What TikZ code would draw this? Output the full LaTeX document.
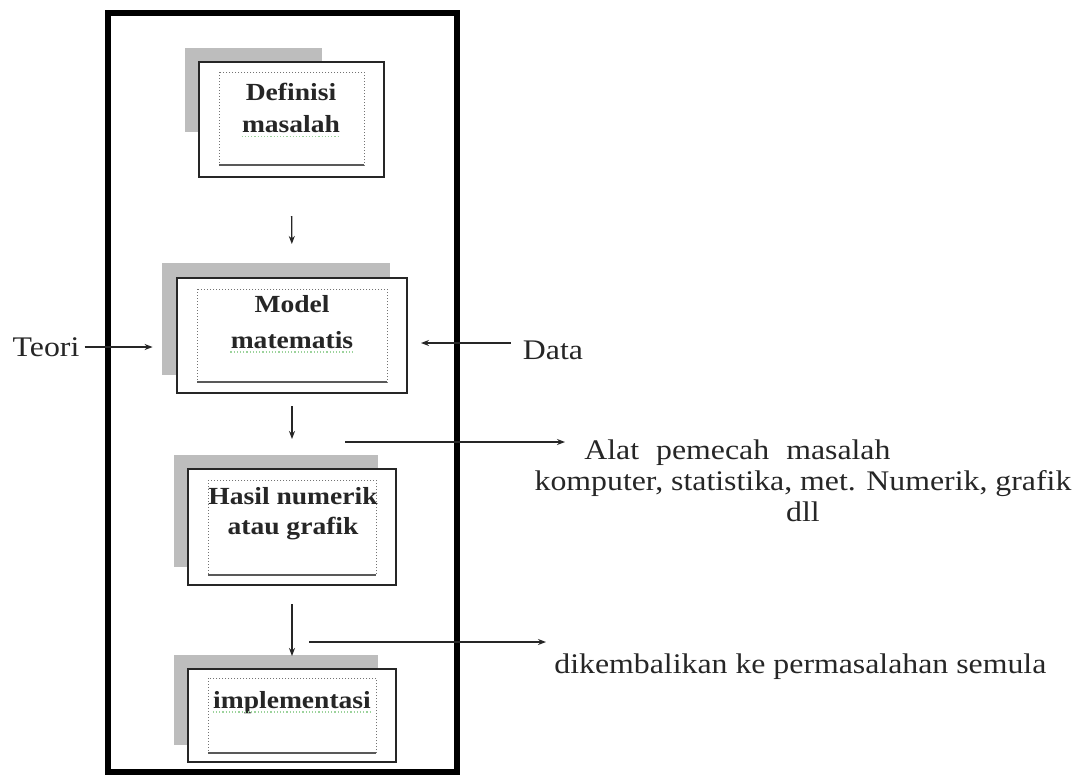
\documentclass[tikz,border=0pt]{standalone}
\usepackage{fontspec}
\setmainfont{Liberation Serif}[FakeStretch=1.12]
\usetikzlibrary{arrows.meta}
\definecolor{shadowgray}{HTML}{BDBDBD}
\definecolor{inkc}{HTML}{262626}
\definecolor{spellgreen}{HTML}{9CD39C}
\tikzset{
  mainbox/.style={draw=inkc, line width=1pt, fill=white},
  shadowbox/.style={fill=shadowgray},
  innerbox/.style={draw=black!55, line width=0.5pt, densely dotted},
  innerbase/.style={draw=black!65, line width=0.8pt},
  boxtext/.style={inner sep=0pt, font=\fontsize{12.3}{15}\selectfont\bfseries, text=inkc, align=center},
  plaintext/.style={inner sep=0pt, font=\fontsize{14.2}{17}\selectfont, text=inkc},
  arr/.style={draw=inkc, line width=0.7pt, -{Stealth[length=4pt, width=3pt]}},
  frame/.style={draw=black, line width=3.2pt},
  spell/.style={draw=spellgreen, line width=0.6pt, densely dotted}
}
\begin{document}
\begin{tikzpicture}[x=0.5pt, y=-0.5pt]
\useasboundingbox (0,0) rectangle (1083,778);
\fill[white] (0,0) rectangle (1083,778);

% outer frame
\draw[frame] (108,13) rectangle (457,772);

% box 1
\fill[shadowbox] (185,48) rectangle (322,132);
\node[mainbox, minimum width=92.5pt, minimum height=57.5pt] (b1) at (291.5,119.5) {};
\draw[innerbox] (219,72) rectangle (364,165);
\draw[innerbase] (219,165) -- (364,165);
\node[boxtext] (t1) at (291,108) {Definisi\\[1pt]masalah};
\draw[spell] ([yshift=-1.5pt]t1.south west) -- ([yshift=-1.5pt]t1.south east);

% box 2
\node[shadowbox, minimum width=114pt, minimum height=56pt] (s2) at (276,319) {};
\node[mainbox, minimum width=115pt, minimum height=57.5pt] (b2) at (292,335.5) {};
\draw[innerbox] (197,289) rectangle (387,382);
\draw[innerbase] (197,382) -- (387,382);
\node[boxtext] (t2) at (292,322) {Model\\[3pt]matematis};
\draw[spell] ([yshift=-1.5pt]t2.south west) -- ([yshift=-1.5pt]t2.south east);

% box 3
\fill[shadowbox] (174,455) rectangle (378,567);
\node[mainbox, minimum width=104pt, minimum height=58pt] (b3) at (292,527) {};
\draw[innerbox] (208,480) rectangle (376,575);
\draw[innerbase] (208,575) -- (376,575);
\node[boxtext] (t3) at (293,514) {Hasil numerik\\atau grafik};

% box 4
\fill[shadowbox] (174,655) rectangle (378,745);
\node[mainbox, minimum width=104pt, minimum height=46.5pt] (b4) at (292,715.5) {};
\draw[innerbox] (208,678) rectangle (376,753);
\draw[innerbase] (208,753) -- (376,753);
\node[boxtext] (t4) at (292,703) {implementasi};
\draw[spell] ([yshift=-1.5pt]t4.base west) -- ([yshift=-1.5pt]t4.base east);

% vertical arrows
\draw[arr, shorten <=19pt, shorten >=16.5pt] (b1.south) -- (b2.north);
\draw[arr, shorten <=6pt, shorten >=14.5pt] (b2.south) -- (b3.north);
\draw[arr, shorten <=9pt, shorten >=6pt] (b3.south) -- (b4.north);

% side inputs
\node[plaintext] (teori) at (46,347) {Teori};
\draw[arr, shorten <=2.5pt, shorten >=4.5pt] (teori.east) -- (teori.east -| s2.west);
\node[plaintext] (data) at (553,350) {Data};
\draw[arr, shorten <=6pt, shorten >=6.5pt] ([yshift=3.5pt]data.west) -- ([yshift=3.5pt]data.west -| b2.east);

% tools
\coordinate (c1) at (345,442);
\node[plaintext, anchor=west] (alat) at (584,453) {Alat\hspace{0.6em}pemecah\hspace{0.6em}masalah};
\node[plaintext] (komp) at (803,484) {komputer, statistika, met. Numerik, grafik};
\node[plaintext] (dll) at (803,512) {dll};
\draw[arr, shorten >=9.5pt] (c1) -- (c1 -| alat.west);

% back to the problem
\coordinate (c2) at (309,642);
\node[plaintext, anchor=west] (kembali) at (554,667) {dikembalikan ke permasalahan semula};
\draw[arr, shorten >=4pt] (c2) -- (c2 -| kembali.west);
\end{tikzpicture}
\end{document}
